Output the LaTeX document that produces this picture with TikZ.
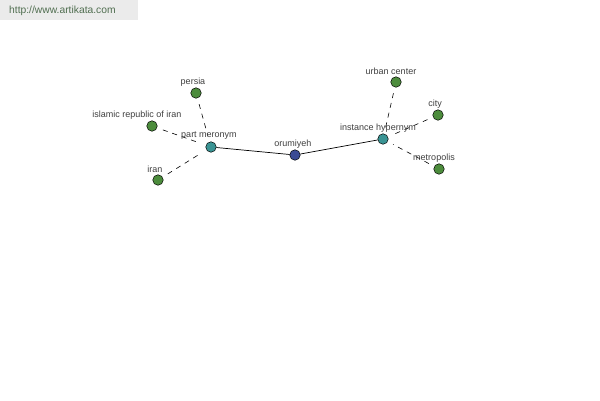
\documentclass[tikz,border=0pt]{standalone}
\usepackage{fontspec}
\setmainfont{Liberation Sans}
\begin{document}
\begin{tikzpicture}[x=1pt,y=-1pt,
  dot/.style={circle,draw=black,line width=0.5pt,minimum size=10.5pt,inner sep=0pt},
  leaf/.style={dot,fill=leafgreen},
  hub/.style={dot,fill=hubteal},
  core/.style={dot,fill=coreblue},
  lbl/.style={font=\fontsize{9}{10}\selectfont,text=black!75,inner sep=0pt},
  dashlink/.style={draw=black,dashed,dash pattern=on 5pt off 5pt,line width=0.6pt,shorten <=6pt,shorten >=6pt},
  solidlink/.style={draw=black,line width=0.7pt}]
\definecolor{leafgreen}{HTML}{4C8C3C}
\definecolor{hubteal}{HTML}{3A9494}
\definecolor{coreblue}{HTML}{3A4A94}
\useasboundingbox (0,0) rectangle (600,400);
\fill[white] (0,0) rectangle (600,400);
\fill[black!8] (0,0) rectangle (138,20);
\node[font=\fontsize{10.3}{12}\selectfont,text={rgb,255:red,80;green,110;blue,80},anchor=west,inner sep=0pt] (wm) at (9,11) {http://www.artikata.com};

\node[core] (oru) at (295,155) {};
\node[hub] (pm) at (211,147) {};
\node[hub] (ih) at (383,139) {};
\node[leaf] (persia) at (196,93) {};
\node[leaf] (iri) at (152,126) {};
\node[leaf] (iran) at (158,180) {};
\node[leaf] (urban) at (396,82) {};
\node[leaf] (city) at (438,115) {};
\node[leaf] (metro) at (439,169) {};

\draw[solidlink] (pm) -- (oru);
\draw[solidlink] (oru) -- (ih);
\draw[dashlink] (persia) -- (pm);
\draw[dashlink] (iri) -- (pm);
\draw[dashlink] (iran) -- (pm);
\draw[dashlink] (urban) -- (ih);
\draw[dashlink] (city) -- (ih);
\draw[dashlink] (metro) -- (ih);

\node[lbl] (loru) at (293,144) {orumiyeh};
\node[lbl] (lpm) at (209,136) {part meronym};
\node[lbl] (lih) at (378,128) {instance hypernym};
\node[lbl] (lpersia) at (193,82) {persia};
\node[lbl] (liri) at (137,115) {islamic republic of iran};
\node[lbl] (liran) at (155,169) {iran};
\node[lbl] (lurban) at (391,71) {urban center};
\node[lbl] (lcity) at (435,104) {city};
\node[lbl] (lmetro) at (434,158) {metropolis};
\end{tikzpicture}
\end{document}
